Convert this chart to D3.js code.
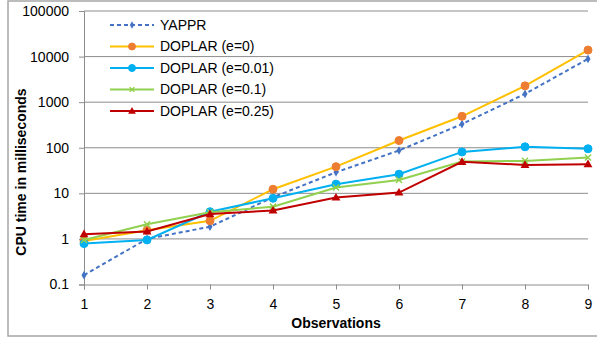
<!DOCTYPE html>
<html>
<head>
<meta charset="utf-8">
<script src="https://cdn.jsdelivr.net/npm/d3@7"></script>
<style>
  body { margin: 0; background: #fff; }
  svg text { font-family: "Liberation Sans", Arial, sans-serif; fill: #000; }
</style>
</head>
<body>
<svg id="chart" width="597" height="337"></svg>
<script>
// observations on the x axis
const observations = [1, 2, 3, 4, 5, 6, 7, 8, 9];
const yTicks = [0.1, 1, 10, 100, 1000, 10000, 100000];

// CPU time (ms)
const yappr     = [0.16, 1.0, 1.85, 8.2, 29, 87, 330, 1520, 8900];
const doplar0   = [0.9, 1.55, 2.5, 12.3, 38.5, 144, 490, 2280, 13900];
const doplar001 = [0.79, 0.95, 3.95, 7.8, 15.9, 26.3, 81, 105, 95];
const doplar01  = [0.95, 2.1, 3.85, 5.1, 13.4, 19.7, 50, 51.5, 61];
const doplar025 = [1.27, 1.45, 3.5, 4.2, 8.1, 10.4, 49, 42, 43.5];

const series = [
  { name: "YAPPR", values: yappr, line: "#4472C4", fill: "#4472C4", marker: "diamond", dash: "4,3" },
  { name: "DOPLAR (e=0)", values: doplar0, line: "#FFC000", fill: "#ED7D31", marker: "circle" },
  { name: "DOPLAR (e=0.01)", values: doplar001, line: "#00B0F0", fill: "#00B0F0", marker: "circle" },
  { name: "DOPLAR (e=0.1)", values: doplar01, line: "#92D050", fill: "#92D050", marker: "cross" },
  { name: "DOPLAR (e=0.25)", values: doplar025, line: "#C00000", fill: "#C00000", marker: "triangle" }
];

const svg = d3.select("#chart");
const margin = { top: 11, right: 9, bottom: 52.5, left: 84 };
const W = 597, H = 337;

// outer chart border
svg.append("rect")
  .attr("x", 8).attr("y", 1)
  .attr("width", 592).attr("height", 335)
  .attr("fill", "none").attr("stroke", "#a6a6a6").attr("stroke-width", 1.5);

const x = d3.scaleLinear().domain([1, 9]).range([margin.left, W - margin.right]);
const y = d3.scaleLog().domain([0.1, 100000]).range([H - margin.bottom, margin.top]);

// gridlines
svg.append("g")
  .selectAll("line")
  .data(yTicks.slice(1))
  .join("line")
  .attr("x1", x(1)).attr("x2", x(9))
  .attr("y1", d => y(d)).attr("y2", d => y(d))
  .attr("stroke", "#8c8c8c").attr("stroke-width", 1);

// y axis
const yAxis = svg.append("g")
  .attr("transform", `translate(${x(1)},0)`)
  .call(d3.axisLeft(y).tickValues(yTicks).tickFormat(d => String(d)).tickSize(5).tickPadding(10));
yAxis.select(".domain").attr("stroke", "#8c8c8c");
yAxis.selectAll(".tick line").attr("stroke", "#8c8c8c");
yAxis.selectAll("text").attr("font-size", "14px").attr("font-family", "'Liberation Sans', Arial, sans-serif").attr("fill", "#000");

// x axis
const xAxis = svg.append("g")
  .attr("transform", `translate(0,${y(0.1)})`)
  .call(d3.axisBottom(x).tickValues(observations).tickFormat(d3.format("d")).tickSize(5).tickPadding(10));
xAxis.select(".domain").attr("stroke", "#8c8c8c");
xAxis.selectAll(".tick line").attr("stroke", "#8c8c8c");
xAxis.selectAll("text").attr("font-size", "14px").attr("font-family", "'Liberation Sans', Arial, sans-serif").attr("fill", "#000");

// axis titles
svg.append("text")
  .attr("x", 336).attr("y", 328)
  .attr("text-anchor", "middle")
  .attr("font-size", "14px").attr("font-weight", "bold")
  .text("Observations");

svg.append("text")
  .attr("transform", "translate(26,172) rotate(-90)")
  .attr("text-anchor", "middle")
  .attr("font-size", "14px").attr("font-weight", "bold")
  .text("CPU time in milliseconds");

function drawMarker(g, s, cx, cy, small) {
  if (s.marker === "circle") {
    g.append("circle").attr("cx", cx).attr("cy", cy).attr("r", small ? 3.5 : 4)
      .attr("fill", s.fill).attr("stroke", s.fill);
  } else if (s.marker === "diamond") {
    g.append("path").attr("d", d3.symbol(d3.symbolDiamond, small ? 16 : 22)())
      .attr("transform", `translate(${cx},${cy})`).attr("fill", s.fill);
  } else if (s.marker === "triangle") {
    g.append("path").attr("d", d3.symbol(d3.symbolTriangle, small ? 26 : 34)())
      .attr("transform", `translate(${cx},${cy + 0.5})`).attr("fill", s.fill);
  } else if (s.marker === "cross") {
    g.append("path").attr("d", d3.symbol(d3.symbolX, small ? 16 : 26)())
      .attr("transform", `translate(${cx},${cy})`)
      .attr("fill", "none").attr("stroke", s.fill).attr("stroke-width", 1.5);
  }
}

const line = d3.line().x((d, i) => x(observations[i])).y(d => y(d));

series.forEach(s => {
  const g = svg.append("g");
  g.append("path")
    .attr("d", line(s.values))
    .attr("fill", "none")
    .attr("stroke", s.line)
    .attr("stroke-width", 2)
    .attr("stroke-dasharray", s.dash || null);
  s.values.forEach((v, i) => drawMarker(g, s, x(observations[i]), y(v), false));
});

// legend
const legend = svg.append("g");
series.forEach((s, i) => {
  const ly = 25 + i * 21.5;
  const lg = legend.append("g");
  lg.append("line")
    .attr("x1", 110).attr("x2", 154).attr("y1", ly).attr("y2", ly)
    .attr("stroke", s.line).attr("stroke-width", 2)
    .attr("stroke-dasharray", s.dash || null);
  drawMarker(lg, s, 132, ly, true);
  lg.append("text")
    .attr("x", 160).attr("y", ly)
    .attr("dy", "0.35em")
    .attr("font-size", "14px")
    .text(s.name);
});
</script>
</body>
</html>
